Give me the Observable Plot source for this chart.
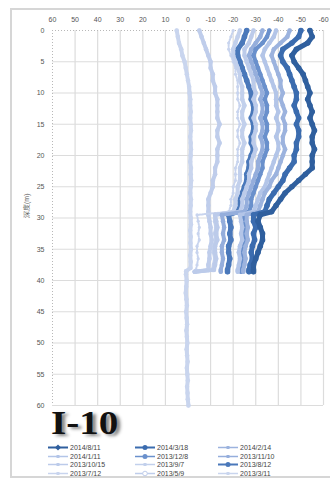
<!DOCTYPE html>
<html><head><meta charset="utf-8">
<script src="https://cdn.jsdelivr.net/npm/d3@7"></script>
<script src="https://cdn.jsdelivr.net/npm/@observablehq/plot@0.6"></script>
<style>
body{margin:0;background:#fff;}
#wrap{position:relative;width:330px;height:479px;overflow:hidden;background:#fff;}
#border{position:absolute;left:10px;top:8px;width:330px;height:466px;border:2px solid #d6d6d6;}
#chart{position:absolute;left:0;top:0;}
#title{position:absolute;left:51px;top:406px;font:bold 34px "Liberation Serif",serif;color:#111;text-shadow:3px 2px 3px #888;line-height:34px;transform:scaleX(1.15);transform-origin:left top;}
.item{position:absolute;height:9px;display:flex;align-items:center;font:7px "Liberation Sans",sans-serif;color:#444;white-space:nowrap;}
.item svg{margin-right:2px;}
</style></head><body>
<div id="wrap"><div id="border"></div><div id="chart"></div><div id="title">I-10</div><div id="legend"></div></div>
<script>
const xTicks = [60,50,40,30,20,10,0,-10,-20,-30,-40,-50,-60];
const yTicks = [0,5,10,15,20,25,30,35,40,45,50,55,60];
const dates = ["2014/8/11","2014/3/18","2014/2/14","2014/1/11","2013/12/8","2013/11/10","2013/10/15","2013/9/7","2013/8/12","2013/7/12","2013/5/9","2013/3/11"];
const colors = ["#2F5F9E","#3B6CAF","#9CB3DE","#B3C5E8","#6A90CC","#95AEDC","#BCCBEA","#C2D0EC","#4A78BA","#C8D4EE","#BFCDEB","#C9D5EE"];
const depthsShort = [0,1,2,3,4,5,6,7,8,9,10,11,12,13,14,15,16,17,18,19,20,21,22,23,24,25,26,27,28,29,29.5,30.5,31.5,32.5,33.5,34.5,35.5,36.5,37.5,38.3,38.6];
const depthsLong = [0,1,2,3,4,5,6,7,8,9,10,11,12,13,14,15,16,17,18,19,20,21,22,23,24,25,26,27,28,29,30,31,32,33,34,35,36,37,38,38.5,39,40,41,42,43,44,45,46,47,48,49,50,51,52,53,54,55,56,57,58,59,60];

const s20140811 = [-54,-55,-53,-48,-46,-47,-49,-51,-52,-53,-54,-53,-54,-55,-54,-55,-56,-55,-55,-56,-55,-55,-55,-52,-49,-46,-43,-41,-39,-37,-32,-31,-32,-33,-33,-32,-31,-30,-29,-29,-29];
const s20140318 = [-50,-49,-46,-42,-41,-42,-44,-45,-46,-47,-48,-48,-47,-48,-49,-48,-49,-49,-48,-48,-47,-47,-45,-43,-42,-40,-38,-36,-35,-34,-29,-29,-30,-29,-29.5,-28.5,-28,-28.5,-27.5,-27,-27];
const s20140214 = [-45,-44,-41,-38,-37,-38,-39,-40,-41,-41,-42,-41,-42,-43,-42,-43,-43,-42,-42,-43,-42,-41,-40,-39,-37,-36,-34,-33,-32,-31,-26,-26,-26.5,-26,-26.5,-25.5,-25,-25.5,-25,-24.5,-24.5];
const s20140111 = [-39,-38,-36,-34,-33,-34,-35,-36,-37,-38,-39,-39,-39,-40,-39,-40,-40,-39,-40,-40,-39,-38,-37,-36,-35,-34,-32,-31,-30,-29,-23,-23.5,-24,-23.5,-24,-23,-22.5,-23,-22.5,-22,-22];
const s20131208 = [-36,-35,-33,-30,-29,-30,-31,-32,-33,-34,-35,-34,-35,-35,-34,-35,-35,-34,-35,-35,-34,-33,-33,-32,-31,-30,-29,-28,-28,-27,-24.5,-25,-25.5,-25,-25.5,-24.5,-24,-24.5,-24,-23.5,-23.5];
const s20131110 = [-33,-32,-30,-28,-27,-28,-29,-30,-31,-32,-33,-32,-33,-33,-32,-33,-33,-32,-33,-33,-32,-31,-31,-30,-29,-28,-27,-26,-26,-25,-15,-15.5,-16,-15.5,-16,-15,-15,-15.5,-15,-14.5,-14.5];
const s20131015 = [-29,-28,-27,-25,-25,-26,-27,-28,-29,-29,-30,-29,-30,-30,-29,-30,-30,-29,-29,-30,-29,-28,-28,-27,-27,-26,-25,-24,-24,-23,-12,-12.5,-13,-12.5,-13,-12,-12,-12.5,-12,-11.5,-3];
const s20130907 = [-23,-22,-21,-20,-20,-21,-22,-23,-23,-24,-24,-24,-25,-24,-24,-25,-24,-24,-25,-24,-24,-24,-23,-23,-23,-22,-22,-21,-21,-20,-12,-12,-12.5,-12,-12.5,-11.5,-11.5,-12,-11.5,-11,-3];
const s20130812 = [-26,-25,-24,-22,-22,-23,-24,-25,-26,-27,-28,-28,-29,-29,-28,-29,-29,-28,-28,-29,-28,-27,-27,-26,-26,-25,-24,-23,-23,-22,-18,-18.5,-19,-18.5,-19,-18,-18,-18.5,-18,-17.5,-17.5];
const s20130712 = [-20,-19,-18,-18,-19,-20,-21,-21,-22,-22,-22,-22,-23,-22,-22,-23,-22,-22,-23,-22,-22,-22,-21,-21,-21,-20,-20,-19,-19,-18,-4,-4.5,-5,-4.5,-5,-4,-4,-4.5,-4,-3.5,-3.5];
const s20130509 = [-5,-6,-7,-8,-9,-10,-10,-11,-11,-12,-12,-13,-13,-13,-13,-14,-13,-13,-14,-13,-13,-13,-12,-12,-11,-11,-10,-9,-9,-9,-9,-9.5,-10,-10,-10.5,-10,-9.5,-9.5,-9,-9,-3];
const s20130311 = [5,4.5,4,3,2.5,1.5,1,0.5,0,-0.5,-0.7,-1,-1,-1.2,-1,-1.2,-1.3,-1,-1.2,-1.3,-1.2,-1,-1.3,-1.2,-1.4,-1.2,-1,-1.3,-1.2,-1,-1.2,-1.3,-1,-1.2,-1.1,-1.3,-1,-1.2,-1.1,0.8,0.9,0.6,0.8,1,0.7,0.5,0.8,0.6,0.4,0.7,0.5,0.3,0.6,0.4,0.2,0.5,0.3,0.1,0.4,0.2,0.1,-0.2];

const seriesValues = [s20140811,s20140318,s20140214,s20140111,s20131208,s20131110,s20131015,s20130907,s20130812,s20130712,s20130509,s20130311];
const darkSet = [0,1,8];

const seriesRows = seriesValues.map((vals, i) => {
  const depths = i === 11 ? depthsLong : depthsShort;
  return vals.map((v, j) => ({date: dates[i], depth: depths[j], value: v}));
});

const marks = [
  Plot.ruleX(xTicks.filter(d => d !== 60), {stroke: "#dcdcdc", strokeWidth: 1.2}),
  Plot.ruleY(yTicks.filter(d => d !== 0), {stroke: "#dcdcdc", strokeWidth: 1.2}),
  Plot.ruleX([60], {stroke: "#b8b8b8", strokeDasharray: "1,2"}),
  Plot.ruleY([0], {stroke: "#b8b8b8", strokeDasharray: "1,2"}),
];
for (let i = seriesRows.length - 1; i >= 0; i--) {
  const dark = darkSet.includes(i);
  const dotted = i === 9;
  marks.push(Plot.line(seriesRows[i], {x: "value", y: "depth", stroke: colors[i], strokeWidth: dotted ? 2 : (dark ? 5 : 4), strokeDasharray: dotted ? "1.5,1.5" : null, strokeLinejoin: "round"}));
  marks.push(Plot.dot(seriesRows[i], {x: "value", y: "depth", fill: colors[i], r: dark ? 2.8 : (dotted ? 1.6 : 2.3)}));
}
marks.push(Plot.text(["深度(m)"], {frameAnchor: "left", dx: -26, rotate: -90, fontSize: 7, fill: "#555"}));

const chart = Plot.plot({
  width: 330, height: 410,
  marginLeft: 52, marginRight: 7, marginTop: 30, marginBottom: 5,
  style: {fontSize: "7px", fontFamily: "Liberation Sans, sans-serif", color: "#555", background: "transparent"},
  x: {domain: [60, -60], axis: "top", ticks: xTicks, tickSize: 0, tickPadding: 9, label: null, tickFormat: d => String(d)},
  y: {domain: [0, 60], reverse: true, ticks: yTicks, tickSize: 0, tickPadding: 8, label: null, tickFormat: d => String(d)},
  marks
});
document.getElementById("chart").appendChild(chart);

// legend
const legendCols = [48, 135, 218];
const legendRows = [447.5, 456, 464.5, 473];
const markerShapes = ["diamond","circle","dash","dash","circle","dash","dash","dash","circle","dash","ring","dash"];
const wrap = document.getElementById("wrap");
dates.forEach((d, i) => {
  const col = i % 3, row = Math.floor(i / 3);
  const el = document.createElement("div");
  el.className = "item";
  el.style.left = legendCols[col] + "px";
  el.style.top = (legendRows[row] - 4.5) + "px";
  const c = colors[i];
  let m = "";
  const s = markerShapes[i];
  if (s === "diamond") m = `<path d="M10,0.5 L13,3.5 L10,6.5 L7,3.5Z" fill="${c}"/>`;
  else if (s === "circle") m = `<circle cx="10" cy="3.5" r="2.5" fill="${c}"/>`;
  else if (s === "ring") m = `<circle cx="10" cy="3.5" r="2.3" fill="#fff" stroke="${c}" stroke-width="1"/>`;
  else m = `<rect x="8.5" y="2" width="3" height="3" fill="${c}"/>`;
  el.innerHTML = `<svg width="20" height="7"><line x1="0" y1="3.5" x2="20" y2="3.5" stroke="${c}" stroke-width="${darkSet.includes(i) ? 2 : 1.5}"/>${m}</svg><span>${d}</span>`;
  wrap.appendChild(el);
});
</script></body></html>
